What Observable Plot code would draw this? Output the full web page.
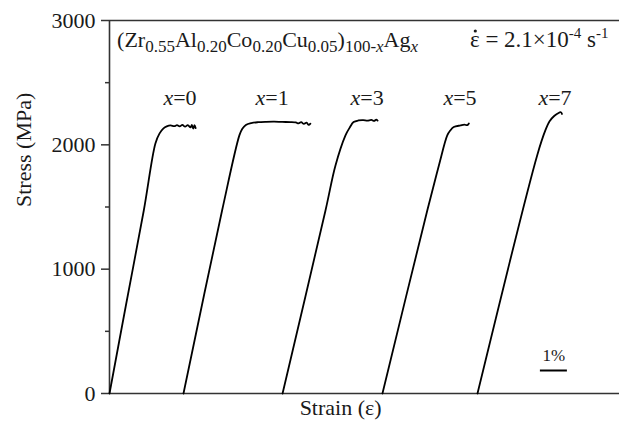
<!DOCTYPE html>
<html><head><meta charset="utf-8">
<script src="https://cdn.jsdelivr.net/npm/d3@7"></script>
<script src="https://cdn.jsdelivr.net/npm/@observablehq/plot@0.6"></script>
<style>body{margin:0;background:#fff} svg{display:block}</style>
</head><body><div id="chart"></div>
<script>
// Ag content (at.%) of each alloy, one curve each
const agContent = [0, 1, 3, 5, 7];

// Strain (%, curves offset along x as in the figure) and stress (MPa)
const strainAg0 = [0, 0.6, 1.27, 1.70, 1.85, 2.00, 2.12, 2.26, 2.4, 2.5, 2.6, 2.7, 2.8, 2.9, 3.0, 3.05, 3.1, 3.15, 3.19];
const stressAg0 = [0, 700, 1472, 2011, 2090, 2132, 2148, 2156, 2150, 2158, 2148, 2160, 2146, 2158, 2140, 2160, 2130, 2158, 2135];

const strainAg1 = [2.74, 4.17, 4.81, 4.92, 5.05, 5.25, 5.5, 5.8, 6.1, 6.4, 6.7, 6.9, 7.0, 7.1, 7.2, 7.3, 7.38, 7.44];
const stressAg1 = [0, 1472, 2076, 2130, 2160, 2175, 2182, 2185, 2186, 2184, 2183, 2180, 2172, 2182, 2168, 2178, 2160, 2170];

const strainAg3 = [6.41, 8.00, 8.37, 8.74, 8.9, 9.04, 9.22, 9.4, 9.55, 9.7, 9.8, 9.88, 9.93];
const stressAg3 = [0, 1472, 1834, 2076, 2140, 2183, 2196, 2198, 2195, 2200, 2192, 2202, 2195];

const strainAg5 = [10.11, 11.77, 12.20, 12.51, 12.62, 12.75, 13.0, 13.15, 13.25, 13.31];
const stressAg5 = [0, 1472, 1834, 2076, 2115, 2143, 2156, 2162, 2158, 2172];

const strainAg7 = [13.63, 15.84, 16.15, 16.3, 16.46, 16.6, 16.72, 16.76];
const stressAg7 = [0, 1915, 2120, 2190, 2230, 2252, 2262, 2248];

// Axis ticks
const yMajorTicks = [0, 1000, 2000, 3000];
const yMinorTicks = [500, 1500, 2500];

// Curve labels (x = ...)
const labelStrain = [2.63, 6.04, 9.56, 13.0, 16.52];
const labelStress = 2381;

// Scale bar (1 % strain)
const scaleBar = [{x1: 15.96, x2: 16.96, y: 185}];
const scaleLabel = [{x: 16.46, y: 306, t: "1%"}];

const curves = [
  [strainAg0, stressAg0], [strainAg1, stressAg1], [strainAg3, stressAg3],
  [strainAg5, stressAg5], [strainAg7, stressAg7]
];
const rows = [];
curves.forEach(([xs, ys], i) => xs.forEach((s, j) => rows.push({ag: agContent[i], strain: s, stress: ys[j]})));

const FONT = "'Liberation Serif', 'Times New Roman', serif";
const INK = "#1a1a1a";

const plot = Plot.plot({
  width: 619, height: 429,
  marginLeft: 109, marginRight: 0, marginTop: 20, marginBottom: 36,
  style: {fontFamily: FONT, fontSize: "22px", color: INK, background: "#fff", overflow: "visible"},
  x: {domain: [0, 18.89], axis: null},
  y: {domain: [0, 3000], axis: null},
  marks: [
    Plot.axisY(yMajorTicks, {tickSize: 8, tickPadding: 6, tickFormat: d => String(d), label: null, fontSize: 22, stroke: "#333", strokeWidth: 1.5}),
    Plot.axisY(yMinorTicks, {tickSize: 4, tickFormat: () => "", label: null, stroke: "#333", strokeWidth: 1.5}),
    Plot.ruleY([0, 3000], {stroke: "#333", strokeWidth: 1.6}),
    Plot.ruleX([0], {stroke: "#333", strokeWidth: 1.6}),
    Plot.line(rows, {x: "strain", y: "stress", z: "ag", stroke: "#000", strokeWidth: 1.8, curve: "catmull-rom"}),
    Plot.ruleY(scaleBar, {y: "y", x1: "x1", x2: "x2", stroke: "#000", strokeWidth: 2}),
    Plot.text(scaleLabel, {x: "x", y: "y", text: "t", fontSize: 17, fill: INK}),
    Plot.text(["Stress (MPa)"], {frameAnchor: "left", dx: -86, rotate: -90, fontSize: 22, fill: INK}),
    Plot.text(["Strain (ε)"], {x: [8.56], frameAnchor: "bottom", dy: 21, fontSize: 22, fill: INK})
  ]
});
document.getElementById("chart").appendChild(plot);

const sx = plot.scale("x"), sy = plot.scale("y");
const svg = d3.select(plot);

function rich(x, y, parts, size, subSize) {
  const t = svg.append("text").attr("x", x).attr("y", y).attr("text-anchor", "start")
    .attr("font-family", FONT).attr("font-size", size).attr("fill", INK);
  let cur = 0;
  for (const p of parts) {
    const target = p.sub ? 5 : p.sup ? -9 : 0;
    const ts = t.append("tspan").attr("dy", target - cur).text(p.t);
    if (p.sub || p.sup) ts.attr("font-size", subSize);
    if (p.it) ts.attr("font-style", "italic");
    cur = target;
  }
  return t;
}

// Composition
rich(sx.apply(0.30), sy.apply(2783), [
  {t: "(Zr"}, {t: "0.55", sub: 1}, {t: "Al"}, {t: "0.20", sub: 1}, {t: "Co"}, {t: "0.20", sub: 1},
  {t: "Cu"}, {t: "0.05", sub: 1}, {t: ")"}, {t: "100-", sub: 1}, {t: "x", sub: 1, it: 1},
  {t: "Ag"}, {t: "x", sub: 1, it: 1}
], 22, 17);

// Strain rate (ε with an overdot)
const rx = sx.apply(13.37), ry = sy.apply(2783);
const rate = rich(rx, ry, [
  {t: "ε"}, {t: " = 2.1×10"}, {t: "-4", sup: 1}, {t: " s"}, {t: "-1", sup: 1}
], 23, 15);
const epsW = rate.node().getSubStringLength(0, 1);
svg.append("circle").attr("cx", rx + epsW / 2 + 0.5).attr("cy", ry - 16).attr("r", 1.6).attr("fill", INK);

// Curve labels
agContent.forEach((a, i) => {
  const t = svg.append("text").attr("x", sx.apply(labelStrain[i])).attr("y", sy.apply(labelStress))
    .attr("dy", "0.35em").attr("text-anchor", "middle")
    .attr("font-family", FONT).attr("font-size", 22).attr("fill", INK);
  t.append("tspan").attr("font-style", "italic").text("x");
  t.append("tspan").text("=" + a);
});
</script>
</body></html>
